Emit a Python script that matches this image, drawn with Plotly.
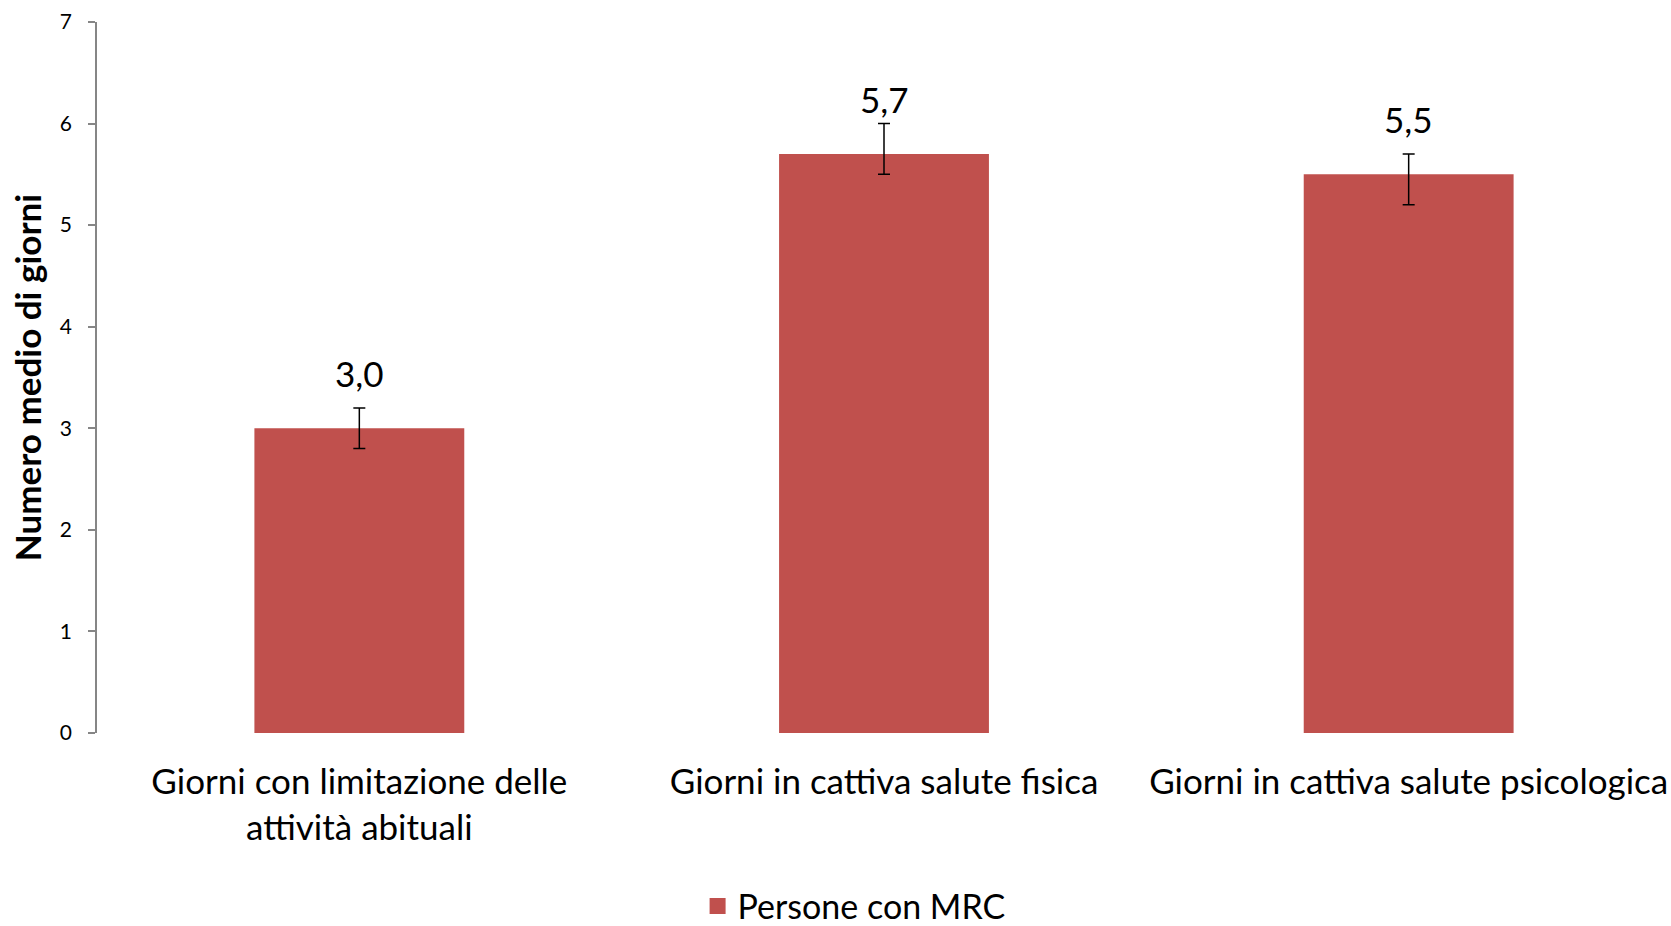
import plotly.graph_objects as go

categories = ["Giorni con limitazione delle<br>attività abituali",
              "Giorni in cattiva salute fisica",
              "Giorni in cattiva salute psicologica"]
values = [3.0, 5.7, 5.5]
err_plus = [0.2, 0.3, 0.2]
err_minus = [0.2, 0.2, 0.3]
value_labels = ["3,0", "5,7", "5,5"]
series_name = "Persone con MRC"
y_ticks = [0, 1, 2, 3, 4, 5, 6, 7]

FONT = "Lato"
BAR = "#C0504D"

fig = go.Figure()
fig.add_trace(go.Bar(
    x=categories, y=values, name=series_name,
    marker=dict(color=BAR, line=dict(width=0)),
    error_y=dict(type="data", symmetric=False, array=err_plus, arrayminus=err_minus,
                 color="black", thickness=1.5, width=6),
    showlegend=False,
))
# legend entry with a large square swatch
fig.add_trace(go.Scatter(
    x=[None], y=[None], mode="markers", name=series_name,
    marker=dict(symbol="square", size=22, color=BAR),
    showlegend=True,
))

for c, v, t in zip(categories, values, value_labels):
    fig.add_annotation(x=c, y=v, text=t, showarrow=False, yanchor="middle",
                       yshift=55, font=dict(family=FONT, size=35, color="black"))

fig.update_layout(
    width=1671, height=926,
    margin=dict(l=97, r=0, t=22, b=193, autoexpand=False),
    paper_bgcolor="white", plot_bgcolor="white",
    bargap=0.6,
    font=dict(family=FONT, color="black"),
    showlegend=True,
    legend=dict(orientation="h", x=0.481, xanchor="center", y=-0.244, yanchor="middle",
                font=dict(family=FONT, size=34, color="black"), itemwidth=30,
                bgcolor="rgba(0,0,0,0)"),
    xaxis=dict(showline=False, showgrid=False, ticks="", zeroline=False,
               automargin=False,
               tickfont=dict(family=FONT, size=35, color="black"),
               ticklabelstandoff=25),
    yaxis=dict(range=[0, 7], tickvals=y_ticks, showgrid=False, zeroline=False,
               automargin=False,
               showline=True, linecolor="#868686", linewidth=1.5,
               ticks="outside", ticklen=7, tickcolor="#868686", tickwidth=1.5,
               tickfont=dict(family=FONT, size=21, color="black"),
               ticklabelstandoff=12,
               title=dict(text="<b>Numero medio di giorni</b>", standoff=8,
                          font=dict(family=FONT, size=35, color="black"))),
)

fig.write_html("out.html", config={"displayModeBar": False},
               post_script="document.body.style.margin='0';document.body.style.overflow='hidden';")
